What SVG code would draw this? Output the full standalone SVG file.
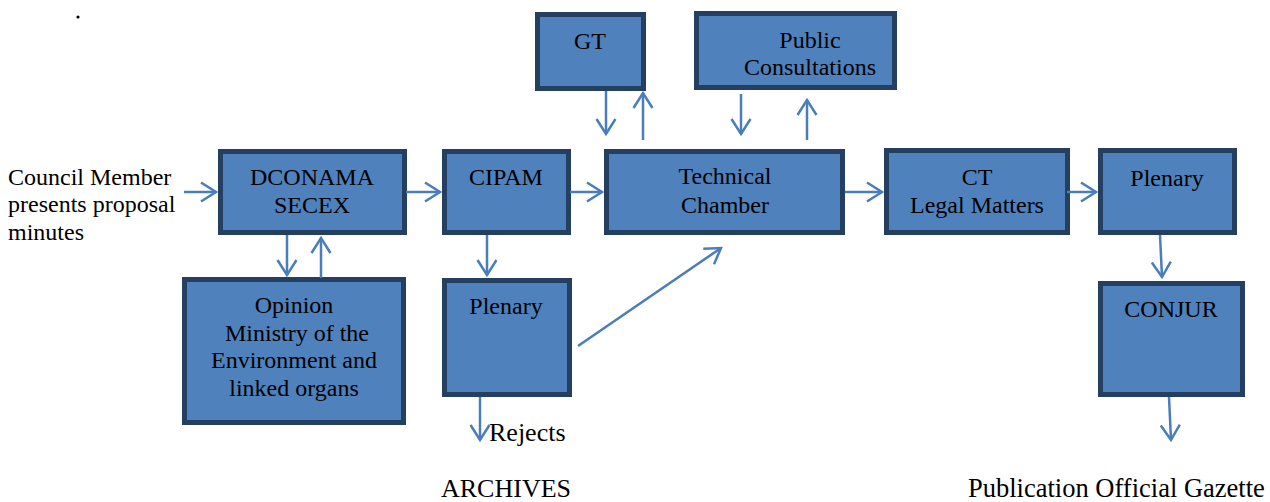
<svg xmlns="http://www.w3.org/2000/svg" width="1270" height="502" viewBox="0 0 1270 502">
<style>
text{font-family:"Liberation Serif","Times New Roman",serif;fill:#000}
.box{fill:#4F81BD;stroke:#243F60;stroke-width:5}
.t{font-size:24px;text-anchor:middle}
.l{font-size:24px}
.b{font-size:26px}
.c{fill:none;stroke:#4A7EBB;stroke-width:2.5}
</style>
<defs>
<marker id="ah" markerUnits="userSpaceOnUse" markerWidth="30" markerHeight="30" viewBox="-20 -15 30 30" refX="0" refY="0" orient="auto">
<path d="M-15,-9.5 L0,0 L-15,9.5" fill="none" stroke="#4A7EBB" stroke-width="2.5"/>
</marker>
</defs>
<rect width="1270" height="502" fill="#fff"/>
<circle cx="78" cy="17" r="1.6" fill="#000"/>
<g id="n-dconama"><rect class="box" x="220.5" y="151.5" width="184" height="81"/><text class="t" x="312" y="185">DCONAMA</text><text class="t" x="312" y="213">SECEX</text></g>
<g id="n-gt"><rect class="box" x="537.5" y="14.5" width="106" height="74"/><text class="t" x="590" y="49">GT</text></g>
<g id="n-public"><rect class="box" x="696.5" y="13.5" width="198" height="74"/><text class="t" x="810" y="48">Public</text><text class="t" x="810" y="75">Consultations</text></g>
<g id="n-cipam"><rect class="box" x="444.5" y="151.5" width="124" height="81"/><text class="t" x="506" y="185">CIPAM</text></g>
<g id="n-technical"><rect class="box" x="606.5" y="151.5" width="236" height="81"/><text class="t" x="725" y="184">Technical</text><text class="t" x="725" y="213">Chamber</text></g>
<g id="n-ct"><rect class="box" x="886.5" y="150.5" width="181" height="82"/><text class="t" x="977" y="185">CT</text><text class="t" x="977" y="213">Legal Matters</text></g>
<g id="n-plenary2"><rect class="box" x="1100.5" y="150.5" width="134" height="82"/><text class="t" x="1167" y="186">Plenary</text></g>
<g id="n-opinion"><rect class="box" x="184.5" y="279.5" width="219" height="143"/><text class="t" x="294" y="313">Opinion</text><text class="t" x="297" y="341">Ministry of the</text><text class="t" x="294" y="368">Environment and</text><text class="t" x="294" y="396">linked organs</text></g>
<g id="n-plenary1"><rect class="box" x="444.5" y="280.5" width="125" height="114"/><text class="t" x="506" y="314">Plenary</text></g>
<g id="n-conjur"><rect class="box" x="1100.5" y="283.5" width="142" height="111"/><text class="t" x="1171" y="317">CONJUR</text></g>
<g id="labels">
<text class="l" x="8" y="185">Council Member</text>
<text class="l" x="8" y="212">presents proposal</text>
<text class="l" x="8" y="240">minutes</text>
<text class="b" x="489" y="441">Rejects</text>
<text class="b" x="441" y="497">ARCHIVES</text>
<text class="b" x="968" y="497" style="font-size:26.5px">Publication Official Gazette</text>
</g>
<g id="connectors">
<line class="c" x1="184" y1="192" x2="216" y2="192" marker-end="url(#ah)"/>
<line class="c" x1="406" y1="192" x2="440" y2="192" marker-end="url(#ah)"/>
<line class="c" x1="570" y1="192" x2="602" y2="192" marker-end="url(#ah)"/>
<line class="c" x1="845" y1="192" x2="882" y2="192" marker-end="url(#ah)"/>
<line class="c" x1="1067" y1="192" x2="1096" y2="192" marker-end="url(#ah)"/>
<line class="c" x1="287" y1="235" x2="287" y2="275" marker-end="url(#ah)"/>
<line class="c" x1="321" y1="278" x2="321" y2="238" marker-end="url(#ah)"/>
<line class="c" x1="487" y1="235" x2="487" y2="275" marker-end="url(#ah)"/>
<line class="c" x1="606" y1="91" x2="606" y2="134" marker-end="url(#ah)"/>
<line class="c" x1="643" y1="140" x2="643" y2="93" marker-end="url(#ah)"/>
<line class="c" x1="741" y1="94" x2="741" y2="134" marker-end="url(#ah)"/>
<line class="c" x1="807" y1="140" x2="807" y2="100" marker-end="url(#ah)"/>
<line class="c" x1="578" y1="346" x2="721" y2="248" marker-end="url(#ah)"/>
<line class="c" x1="480" y1="397" x2="480" y2="440" marker-end="url(#ah)"/>
<line class="c" x1="1160" y1="235" x2="1162" y2="277" marker-end="url(#ah)"/>
<line class="c" x1="1169" y1="397" x2="1171" y2="440" marker-end="url(#ah)"/>
</g>
</svg>
